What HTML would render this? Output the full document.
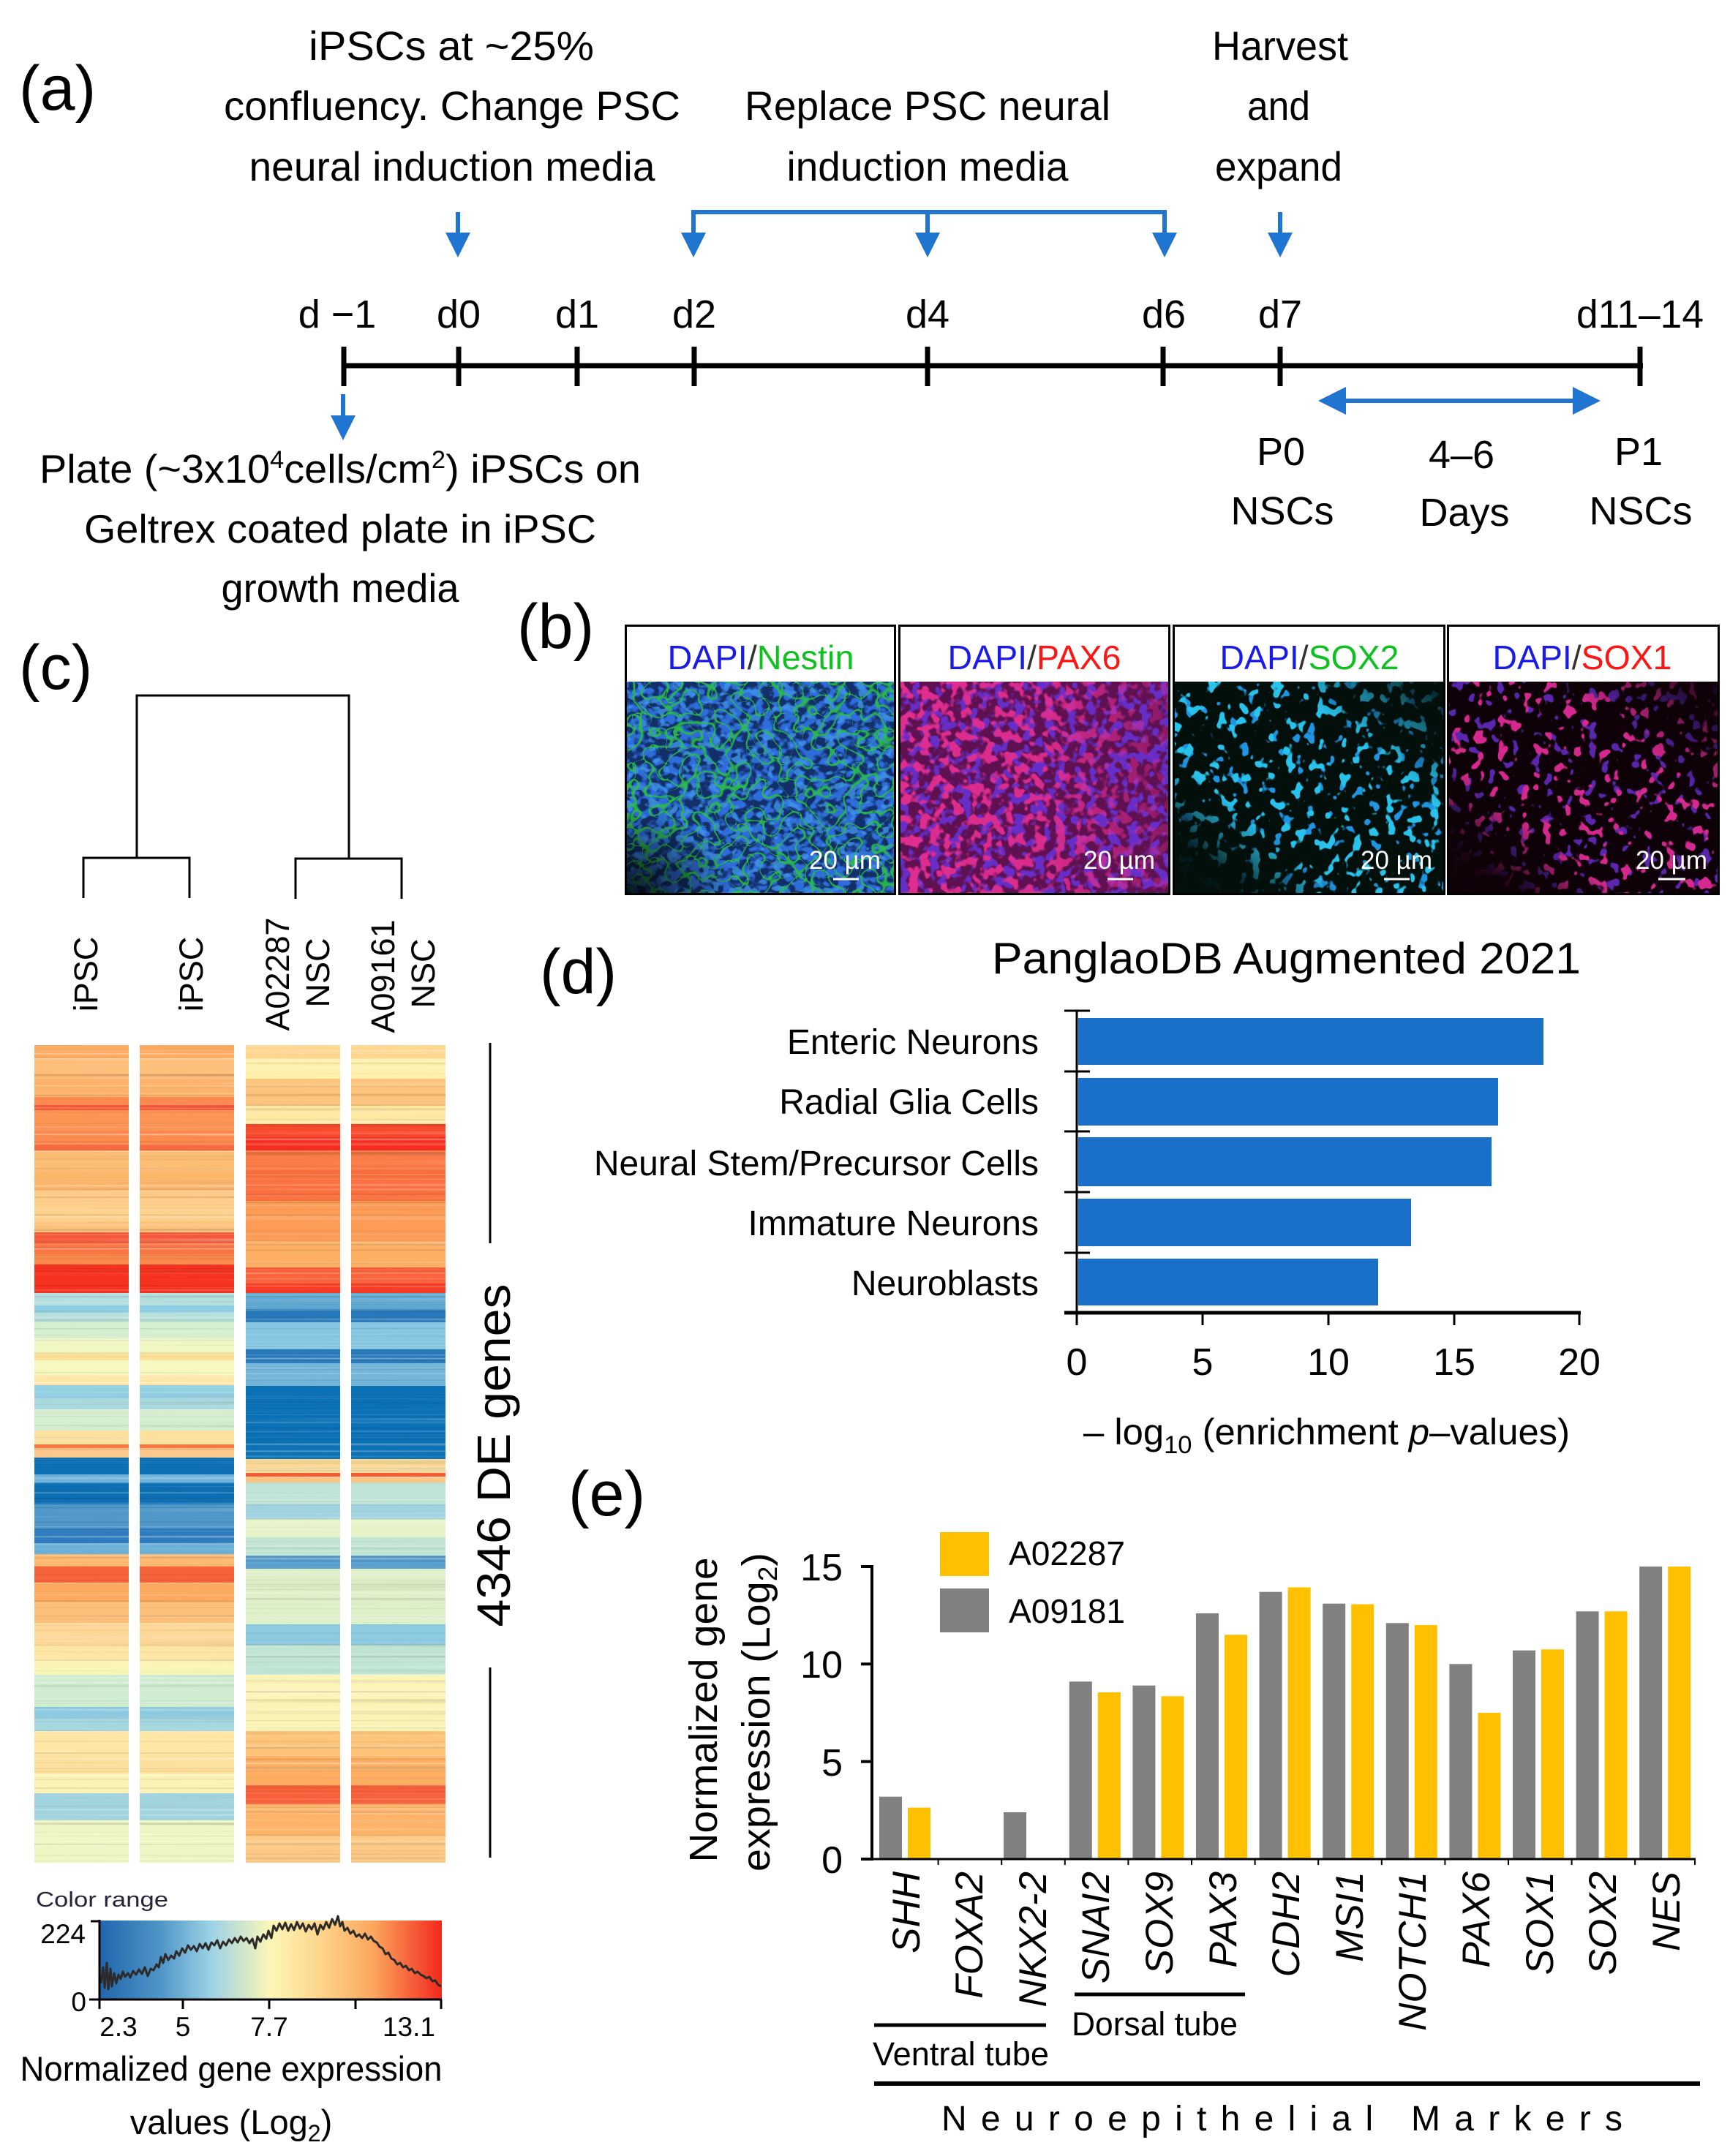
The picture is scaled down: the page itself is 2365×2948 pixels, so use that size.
<!DOCTYPE html>
<html><head><meta charset="utf-8">
<style>
html,body{margin:0;padding:0;background:#fff;}
svg{display:block;}
text{font-family:"Liberation Sans",Arial,sans-serif;}
</style></head><body>
<svg xmlns="http://www.w3.org/2000/svg" xmlns:xlink="http://www.w3.org/1999/xlink" width="2365" height="2948" viewBox="0 0 2365 2948">
<defs>
  <linearGradient id="cr" x1="0" y1="0" x2="1" y2="0">
    <stop offset="0" stop-color="#2166ac"/>
    <stop offset="0.18" stop-color="#4f96c8"/>
    <stop offset="0.33" stop-color="#9fd3e6"/>
    <stop offset="0.5" stop-color="#fbf7b6"/>
    <stop offset="0.65" stop-color="#fdd48a"/>
    <stop offset="0.8" stop-color="#fca65e"/>
    <stop offset="1" stop-color="#f2281c"/>
  </linearGradient>
  <linearGradient id="gDiag" x1="1" y1="0" x2="0" y2="1">
    <stop offset="0" stop-color="#111"/>
    <stop offset="0.3" stop-color="#fff"/>
    <stop offset="0.68" stop-color="#fff"/>
    <stop offset="0.88" stop-color="#111"/>
    <stop offset="1" stop-color="#000"/>
  </linearGradient>
  <mask id="mDiag" maskContentUnits="objectBoundingBox">
    <rect width="1" height="1" fill="url(#gDiag)"/>
  </mask>
  <linearGradient id="gLR" x1="0" y1="0" x2="1" y2="0">
    <stop offset="0" stop-color="#fff"/>
    <stop offset="0.55" stop-color="#eee"/>
    <stop offset="1" stop-color="#555"/>
  </linearGradient>
  <mask id="mLR" maskContentUnits="objectBoundingBox">
    <rect width="1" height="1" fill="url(#gLR)"/>
  </mask>
  <radialGradient id="gCorner" cx="0" cy="1" r="0.4">
    <stop offset="0" stop-color="#000" stop-opacity="0.85"/>
    <stop offset="1" stop-color="#000" stop-opacity="0"/>
  </radialGradient>

  <filter id="fNuc1" x="0" y="0" width="1" height="1" color-interpolation-filters="sRGB">
    <feTurbulence type="fractalNoise" baseFrequency="0.07 0.085" numOctaves="2" seed="2"/>
    <feColorMatrix type="matrix" values="0 0 0 0 0.18  0 0 0 0 0.42  0 0 0 0 0.86  7 0 0 0 -3.1"/>
  </filter>
  <filter id="fNuc1b" x="0" y="0" width="1" height="1" color-interpolation-filters="sRGB">
    <feTurbulence type="fractalNoise" baseFrequency="0.07 0.085" numOctaves="2" seed="6"/>
    <feColorMatrix type="matrix" values="0 0 0 0 0.25  0 0 0 0 0.58  0 0 0 0 0.92  10 0 0 0 -5.6"/>
  </filter>
  <filter id="fNet" x="0" y="0" width="1" height="1" color-interpolation-filters="sRGB">
    <feTurbulence type="turbulence" baseFrequency="0.045" numOctaves="1" seed="7"/>
    <feColorMatrix type="matrix" values="0 0 0 0 0.17  0 0 0 0 0.75  0 0 0 0 0.28  -20 0 0 0 1.35"/>
  </filter>
  <filter id="fPur" x="0" y="0" width="1" height="1" color-interpolation-filters="sRGB">
    <feTurbulence type="fractalNoise" baseFrequency="0.07" numOctaves="2" seed="4"/>
    <feColorMatrix type="matrix" values="0 0 0 0 0.40  0 0 0 0 0.18  0 0 0 0 0.78  9 0 0 0 -4.4"/>
  </filter>
  <filter id="fPink" x="0" y="0" width="1" height="1" color-interpolation-filters="sRGB">
    <feTurbulence type="fractalNoise" baseFrequency="0.07" numOctaves="2" seed="3"/>
    <feColorMatrix type="matrix" values="0 0 0 0 0.88  0 0 0 0 0.18  0 0 0 0 0.56  9 0 0 0 -4.5"/>
  </filter>
  <filter id="fCyan" x="0" y="0" width="1" height="1" color-interpolation-filters="sRGB">
    <feTurbulence type="fractalNoise" baseFrequency="0.065 0.055" numOctaves="2" seed="11"/>
    <feColorMatrix type="matrix" values="0 0 0 0 0.16  0 0 0 0 0.76  0 0 0 0 0.92  18 0 0 0 -11.1"/>
  </filter>
  <filter id="fCyan2" x="0" y="0" width="1" height="1" color-interpolation-filters="sRGB">
    <feTurbulence type="fractalNoise" baseFrequency="0.065 0.055" numOctaves="2" seed="21"/>
    <feColorMatrix type="matrix" values="0 0 0 0 0.12  0 0 0 0 0.58  0 0 0 0 0.88  18 0 0 0 -11.4"/>
  </filter>
  <filter id="fMag" x="0" y="0" width="1" height="1" color-interpolation-filters="sRGB">
    <feTurbulence type="fractalNoise" baseFrequency="0.065 0.055" numOctaves="2" seed="11"/>
    <feColorMatrix type="matrix" values="0 0 0 0 0.84  0 0 0 0 0.16  0 0 0 0 0.56  18 0 0 0 -11.3"/>
  </filter>
  <filter id="fMag2" x="0" y="0" width="1" height="1" color-interpolation-filters="sRGB">
    <feTurbulence type="fractalNoise" baseFrequency="0.065 0.055" numOctaves="2" seed="21"/>
    <feColorMatrix type="matrix" values="0 0 0 0 0.35  0 0 0 0 0.15  0 0 0 0 0.68  18 0 0 0 -11.2"/>
  </filter>

  <filter id="stWA" x="0" y="0" width="1" height="1" color-interpolation-filters="sRGB">
    <feTurbulence type="fractalNoise" baseFrequency="0.0005 0.3" numOctaves="2" seed="4"/>
    <feColorMatrix type="matrix" values="0 0 0 0 1  0 0 0 0 1  0 0 0 0 1  3 0 0 0 -1.65"/>
  </filter>
  <filter id="stKA" x="0" y="0" width="1" height="1" color-interpolation-filters="sRGB">
    <feTurbulence type="fractalNoise" baseFrequency="0.0005 0.25" numOctaves="2" seed="9"/>
    <feColorMatrix type="matrix" values="0 0 0 0 0  0 0 0 0 0  0 0 0 0 0  -3 0 0 0 1.35"/>
  </filter>
  <filter id="stWB" x="0" y="0" width="1" height="1" color-interpolation-filters="sRGB">
    <feTurbulence type="fractalNoise" baseFrequency="0.0005 0.3" numOctaves="2" seed="14"/>
    <feColorMatrix type="matrix" values="0 0 0 0 1  0 0 0 0 1  0 0 0 0 1  3 0 0 0 -1.65"/>
  </filter>
  <filter id="stKB" x="0" y="0" width="1" height="1" color-interpolation-filters="sRGB">
    <feTurbulence type="fractalNoise" baseFrequency="0.0005 0.25" numOctaves="2" seed="19"/>
    <feColorMatrix type="matrix" values="0 0 0 0 0  0 0 0 0 0  0 0 0 0 0  -3 0 0 0 1.35"/>
  </filter>

  <g id="bandsA">
    <rect x="0" y="1429" width="129" height="18" fill="#fdaa62"/>
    <rect x="0" y="1447" width="129" height="23" fill="#fdbf7a"/>
    <rect x="0" y="1470" width="129" height="30" fill="#fdb36c"/>
    <rect x="0" y="1500" width="129" height="11" fill="#fb8a50"/>
    <rect x="0" y="1511" width="129" height="7" fill="#f4583a"/>
    <rect x="0" y="1518" width="129" height="27" fill="#fc9352"/>
    <rect x="0" y="1545" width="129" height="20" fill="#fc8a4e"/>
    <rect x="0" y="1565" width="129" height="8" fill="#f8693f"/>
    <rect x="0" y="1573" width="129" height="27" fill="#fdbd74"/>
    <rect x="0" y="1600" width="129" height="29" fill="#fdb76d"/>
    <rect x="0" y="1629" width="129" height="16" fill="#fecb86"/>
    <rect x="0" y="1645" width="129" height="25" fill="#fed08c"/>
    <rect x="0" y="1670" width="129" height="15" fill="#fdc37c"/>
    <rect x="0" y="1685" width="129" height="15" fill="#f65a3a"/>
    <rect x="0" y="1700" width="129" height="15" fill="#f97545"/>
    <rect x="0" y="1715" width="129" height="14" fill="#fa8a4c"/>
    <rect x="0" y="1729" width="129" height="39" fill="#f6321f"/>
    <rect x="0" y="1768" width="129" height="17" fill="#b5dfe0"/>
    <rect x="0" y="1785" width="129" height="10" fill="#8fcde2"/>
    <rect x="0" y="1795" width="129" height="13" fill="#b8e0da"/>
    <rect x="0" y="1808" width="129" height="22" fill="#d6eed0"/>
    <rect x="0" y="1830" width="129" height="20" fill="#f0f7c4"/>
    <rect x="0" y="1850" width="129" height="10" fill="#fde09a"/>
    <rect x="0" y="1860" width="129" height="20" fill="#f6f8c0"/>
    <rect x="0" y="1880" width="129" height="14" fill="#fde7a8"/>
    <rect x="0" y="1894" width="129" height="18" fill="#94cfe2"/>
    <rect x="0" y="1912" width="129" height="15" fill="#a8d9df"/>
    <rect x="0" y="1927" width="129" height="29" fill="#d5edd0"/>
    <rect x="0" y="1956" width="129" height="19" fill="#fee0a0"/>
    <rect x="0" y="1975" width="129" height="5" fill="#f8783f"/>
    <rect x="0" y="1980" width="129" height="13" fill="#fec88a"/>
    <rect x="0" y="1993" width="129" height="23" fill="#0d6fb4"/>
    <rect x="0" y="2016" width="129" height="11" fill="#6fb2da"/>
    <rect x="0" y="2027" width="129" height="30" fill="#0d6fb4"/>
    <rect x="0" y="2057" width="129" height="33" fill="#4f98c9"/>
    <rect x="0" y="2090" width="129" height="20" fill="#2e7bbd"/>
    <rect x="0" y="2110" width="129" height="15" fill="#6ab0d8"/>
    <rect x="0" y="2125" width="129" height="17" fill="#fdb66a"/>
    <rect x="0" y="2142" width="129" height="22" fill="#f6633c"/>
    <rect x="0" y="2164" width="129" height="26" fill="#fdaa60"/>
    <rect x="0" y="2190" width="129" height="29" fill="#fdc07a"/>
    <rect x="0" y="2219" width="129" height="31" fill="#fed898"/>
    <rect x="0" y="2250" width="129" height="21" fill="#fde5a2"/>
    <rect x="0" y="2271" width="129" height="19" fill="#f9f5b8"/>
    <rect x="0" y="2290" width="129" height="44" fill="#cfebd0"/>
    <rect x="0" y="2334" width="129" height="16" fill="#8fcbe0"/>
    <rect x="0" y="2350" width="129" height="17" fill="#a5d8df"/>
    <rect x="0" y="2367" width="129" height="33" fill="#fee6a4"/>
    <rect x="0" y="2400" width="129" height="25" fill="#fde09c"/>
    <rect x="0" y="2425" width="129" height="27" fill="#fbf3b6"/>
    <rect x="0" y="2452" width="129" height="37" fill="#a2d4df"/>
    <rect x="0" y="2489" width="129" height="58" fill="#eef6c4"/>
  </g>
  <g id="bandsB">
    <rect x="0" y="1429" width="129" height="18" fill="#fed68e"/>
    <rect x="0" y="1447" width="129" height="28" fill="#fef0aa"/>
    <rect x="0" y="1475" width="129" height="37" fill="#fdc47c"/>
    <rect x="0" y="1512" width="129" height="25" fill="#fee8a2"/>
    <rect x="0" y="1537" width="129" height="18" fill="#f84a2c"/>
    <rect x="0" y="1555" width="129" height="18" fill="#f72e1f"/>
    <rect x="0" y="1573" width="129" height="27" fill="#fb7c48"/>
    <rect x="0" y="1600" width="129" height="42" fill="#fc7040"/>
    <rect x="0" y="1642" width="129" height="55" fill="#fc9c56"/>
    <rect x="0" y="1697" width="129" height="36" fill="#fdb064"/>
    <rect x="0" y="1733" width="129" height="22" fill="#f9643c"/>
    <rect x="0" y="1755" width="129" height="13" fill="#f73a24"/>
    <rect x="0" y="1768" width="129" height="22" fill="#5ea9d2"/>
    <rect x="0" y="1790" width="129" height="18" fill="#2779b9"/>
    <rect x="0" y="1808" width="129" height="37" fill="#85c6e0"/>
    <rect x="0" y="1845" width="129" height="19" fill="#2a7bbb"/>
    <rect x="0" y="1864" width="129" height="31" fill="#74b5da"/>
    <rect x="0" y="1895" width="129" height="100" fill="#0b72b6"/>
    <rect x="0" y="1995" width="129" height="19" fill="#fedb94"/>
    <rect x="0" y="2014" width="129" height="5" fill="#f6603a"/>
    <rect x="0" y="2019" width="129" height="8" fill="#fdc07a"/>
    <rect x="0" y="2027" width="129" height="30" fill="#bfe3d6"/>
    <rect x="0" y="2057" width="129" height="20" fill="#9fd3df"/>
    <rect x="0" y="2077" width="129" height="25" fill="#e6f3c8"/>
    <rect x="0" y="2102" width="129" height="25" fill="#c3e5d4"/>
    <rect x="0" y="2127" width="129" height="18" fill="#5a9fcf"/>
    <rect x="0" y="2145" width="129" height="76" fill="#dff1ca"/>
    <rect x="0" y="2221" width="129" height="28" fill="#8dcbe0"/>
    <rect x="0" y="2249" width="129" height="41" fill="#c0e4d4"/>
    <rect x="0" y="2290" width="129" height="77" fill="#fcf3b6"/>
    <rect x="0" y="2367" width="129" height="34" fill="#fdc47a"/>
    <rect x="0" y="2401" width="129" height="40" fill="#fdae60"/>
    <rect x="0" y="2441" width="129" height="26" fill="#f8603a"/>
    <rect x="0" y="2467" width="129" height="43" fill="#fdb46a"/>
    <rect x="0" y="2510" width="129" height="37" fill="#fdcb86"/>
  </g>
</defs>

<rect width="2365" height="2948" fill="#fff"/>

<!-- ================= Panel (a) ================= -->
<text x="26" y="150" font-size="86">(a)</text>
<g font-size="56" fill="#000" text-anchor="middle">
  <text x="617" y="82" textLength="390" lengthAdjust="spacingAndGlyphs">iPSCs  at ~25%</text>
  <text x="618" y="164" textLength="624" lengthAdjust="spacingAndGlyphs">confluency.  Change PSC</text>
  <text x="618" y="247" textLength="555" lengthAdjust="spacingAndGlyphs">neural  induction  media</text>
  <text x="1268" y="164" textLength="500" lengthAdjust="spacingAndGlyphs">Replace PSC neural</text>
  <text x="1268" y="247" textLength="385" lengthAdjust="spacingAndGlyphs">induction  media</text>
  <text x="1750" y="82" textLength="186" lengthAdjust="spacingAndGlyphs">Harvest</text>
  <text x="1748" y="164" textLength="86" lengthAdjust="spacingAndGlyphs">and</text>
  <text x="1748" y="247" textLength="174" lengthAdjust="spacingAndGlyphs">expand</text>
</g>
<g font-size="54" fill="#000" text-anchor="middle">
  <text x="461" y="448">d −1</text>
  <text x="627" y="448">d0</text>
  <text x="789" y="448">d1</text>
  <text x="949" y="448">d2</text>
  <text x="1268" y="448">d4</text>
  <text x="1591" y="448">d6</text>
  <text x="1750" y="448">d7</text>
  <text x="2242" y="448" textLength="174" lengthAdjust="spacingAndGlyphs">d11–14</text>
  <text x="1751" y="636">P0</text>
  <text x="1753" y="717">NSCs</text>
  <text x="1998" y="640">4–6</text>
  <text x="2002" y="719">Days</text>
  <text x="2240" y="636">P1</text>
  <text x="2243" y="717">NSCs</text>
</g>
<g font-size="55" fill="#000" text-anchor="middle">
  <text x="465" y="660" textLength="822" lengthAdjust="spacingAndGlyphs">Plate (~3x10<tspan font-size="34" dy="-20">4</tspan><tspan dy="20">cells/cm</tspan><tspan font-size="34" dy="-20">2</tspan><tspan dy="20">) iPSCs on</tspan></text>
  <text x="465" y="742" textLength="700" lengthAdjust="spacingAndGlyphs">Geltrex coated plate in iPSC</text>
  <text x="465" y="823" textLength="325" lengthAdjust="spacingAndGlyphs">growth media</text>
</g>
<g stroke="#000" stroke-width="7">
  <line x1="468" y1="500" x2="2246" y2="500"/>
  <line x1="470" y1="474" x2="470" y2="528"/>
  <line x1="627" y1="474" x2="627" y2="528"/>
  <line x1="789" y1="474" x2="789" y2="528"/>
  <line x1="949" y1="474" x2="949" y2="528"/>
  <line x1="1268" y1="474" x2="1268" y2="528"/>
  <line x1="1590" y1="474" x2="1590" y2="528"/>
  <line x1="1750" y1="474" x2="1750" y2="528"/>
  <line x1="2242" y1="474" x2="2242" y2="528"/>
</g>
<g stroke="#2075d0" stroke-width="6" fill="none">
  <line x1="626" y1="290" x2="626" y2="322"/>
  <path d="M948,322 V290 H1592 V322"/>
  <line x1="1268" y1="290" x2="1268" y2="322"/>
  <line x1="1750" y1="290" x2="1750" y2="322"/>
  <line x1="469" y1="539" x2="469" y2="572"/>
  <line x1="1830" y1="548" x2="2160" y2="548"/>
</g>
<g fill="#2075d0">
  <polygon points="609,318 643,318 626,352"/>
  <polygon points="931,318 965,318 948,352"/>
  <polygon points="1251,318 1285,318 1268,352"/>
  <polygon points="1575,318 1609,318 1592,352"/>
  <polygon points="1733,318 1767,318 1750,352"/>
  <polygon points="452,568 486,568 469,602"/>
  <polygon points="1802,548 1840,529 1840,567"/>
  <polygon points="2188,548 2150,529 2150,567"/>
</g>

<!-- ================= Panel (b) ================= -->
<text x="707" y="886" font-size="86">(b)</text>
<g>
  <rect x="857" y="932" width="365" height="290" fill="#122f6a"/>
  <rect x="857" y="932" width="365" height="290" fill="#000" filter="url(#fNuc1)"/>
  <rect x="857" y="932" width="365" height="290" fill="#000" filter="url(#fNuc1b)" opacity="0.8"/>
  <rect x="857" y="932" width="365" height="290" fill="#000" filter="url(#fNet)" opacity="0.9"/>
  <rect x="857" y="932" width="365" height="290" fill="url(#gCorner)"/>
</g>
<g>
  <rect x="1231" y="932" width="366" height="290" fill="#5e1050"/>
  <rect x="1231" y="932" width="366" height="290" fill="#000" filter="url(#fPur)"/>
  <rect x="1231" y="932" width="366" height="290" fill="#000" filter="url(#fPink)" mask="url(#mLR)"/>
</g>
<g>
  <rect x="1606" y="932" width="368" height="290" fill="#030f0b"/>
  <g mask="url(#mDiag)">
    <rect x="1606" y="932" width="368" height="290" fill="#000" filter="url(#fCyan2)"/>
    <rect x="1606" y="932" width="368" height="290" fill="#000" filter="url(#fCyan)"/>
  </g>
</g>
<g>
  <rect x="1981" y="932" width="367" height="290" fill="#0e0208"/>
  <g mask="url(#mDiag)">
    <rect x="1981" y="932" width="367" height="290" fill="#000" filter="url(#fMag2)"/>
    <rect x="1981" y="932" width="367" height="290" fill="#000" filter="url(#fMag)"/>
  </g>
</g>
<g fill="#fff" stroke="none">
  <rect x="856" y="857" width="367" height="75"/>
  <rect x="1230" y="857" width="368" height="75"/>
  <rect x="1605" y="857" width="370" height="73"/>
  <rect x="1980" y="857" width="369" height="73"/>
</g>
<g fill="none" stroke="#000" stroke-width="3">
  <rect x="855.5" y="855.5" width="368" height="367"/>
  <rect x="1229.5" y="855.5" width="369" height="367"/>
  <rect x="1604.5" y="855.5" width="370" height="367"/>
  <rect x="1979.5" y="855.5" width="370" height="367"/>
</g>
<g font-size="46" text-anchor="middle">
  <text x="1040" y="915" textLength="255" lengthAdjust="spacingAndGlyphs"><tspan fill="#1b1be8">DAPI</tspan><tspan fill="#333">/</tspan><tspan fill="#10c020">Nestin</tspan></text>
  <text x="1414" y="915" textLength="237" lengthAdjust="spacingAndGlyphs"><tspan fill="#1b1be8">DAPI</tspan><tspan fill="#333">/</tspan><tspan fill="#ff1414">PAX6</tspan></text>
  <text x="1790" y="915" textLength="245" lengthAdjust="spacingAndGlyphs"><tspan fill="#1b1be8">DAPI</tspan><tspan fill="#333">/</tspan><tspan fill="#10c020">SOX2</tspan></text>
  <text x="2163" y="915" textLength="245" lengthAdjust="spacingAndGlyphs"><tspan fill="#1b1be8">DAPI</tspan><tspan fill="#333">/</tspan><tspan fill="#ff1414">SOX1</tspan></text>
</g>
<g font-size="35" fill="#fff" text-anchor="end">
  <text x="1204" y="1188">20 µm</text>
  <text x="1579" y="1188">20 µm</text>
  <text x="1958" y="1188">20 µm</text>
  <text x="2334" y="1188">20 µm</text>
</g>
<g stroke="#fff" stroke-width="3">
  <line x1="1139" y1="1202" x2="1174" y2="1202"/>
  <line x1="1514" y1="1202" x2="1549" y2="1202"/>
  <line x1="1892" y1="1202" x2="1927" y2="1202"/>
  <line x1="2267" y1="1202" x2="2304" y2="1202"/>
</g>

<!-- ================= Panel (c) ================= -->
<text x="26" y="942" font-size="86">(c)</text>
<g stroke="#000" stroke-width="3" fill="none">
  <path d="M187,1173 V951 H477 V1173"/>
  <path d="M114,1228 V1173 H259 V1228"/>
  <path d="M404,1229 V1174 H549 V1229"/>
</g>
<g font-size="45" text-anchor="middle" fill="#000">
  <text transform="translate(133,1332) rotate(-90)">iPSC</text>
  <text transform="translate(277,1332) rotate(-90)">iPSC</text>
  <text transform="translate(395,1332) rotate(-90)">A02287</text>
  <text transform="translate(450,1330) rotate(-90)">NSC</text>
  <text transform="translate(539,1335) rotate(-90)">A09161</text>
  <text transform="translate(594,1331) rotate(-90)">NSC</text>
</g>
<use xlink:href="#bandsA" href="#bandsA" x="47"/>
<use xlink:href="#bandsA" href="#bandsA" x="191"/>
<use xlink:href="#bandsB" href="#bandsB" x="336"/>
<use xlink:href="#bandsB" href="#bandsB" x="480"/>
<rect x="47" y="1429" width="129" height="1118" fill="#000" filter="url(#stWA)" opacity="0.45"/>
<rect x="191" y="1429" width="129" height="1118" fill="#000" filter="url(#stWA)" opacity="0.45"/>
<rect x="336" y="1429" width="129" height="1118" fill="#000" filter="url(#stWB)" opacity="0.45"/>
<rect x="480" y="1429" width="129" height="1118" fill="#000" filter="url(#stWB)" opacity="0.45"/>
<rect x="47" y="1429" width="129" height="1118" fill="#000" filter="url(#stKA)" opacity="0.18"/>
<rect x="191" y="1429" width="129" height="1118" fill="#000" filter="url(#stKA)" opacity="0.18"/>
<rect x="336" y="1429" width="129" height="1118" fill="#000" filter="url(#stKB)" opacity="0.18"/>
<rect x="480" y="1429" width="129" height="1118" fill="#000" filter="url(#stKB)" opacity="0.18"/>

<g stroke="#000" stroke-width="3">
  <line x1="670" y1="1426" x2="670" y2="1700"/>
  <line x1="670" y1="2280" x2="670" y2="2540"/>
</g>
<text transform="translate(697,1990) rotate(-90)" font-size="64" text-anchor="middle" textLength="469" lengthAdjust="spacingAndGlyphs">4346 DE genes</text>

<text x="49" y="2607" font-size="29" fill="#2b2238" textLength="181" lengthAdjust="spacingAndGlyphs">Color range</text>
<rect x="136" y="2626" width="468" height="108" fill="url(#cr)"/>
<polyline fill="none" stroke="#2e2a2a" stroke-width="3" stroke-linejoin="round" points="138,2712 141,2690 143,2718 146,2684 148,2720 151,2692 153,2716 156,2698 159,2712 162,2700 165,2706 168,2696 171,2703 175,2698 178,2704 182,2695 186,2700 190,2693 194,2699 198,2690 202,2702 206,2692 210,2694 214,2686 217,2690 220,2676 223,2684 226,2672 230,2680 234,2674 238,2678 241,2668 245,2674 249,2664 253,2670 257,2660 261,2666 265,2661 269,2668 273,2658 277,2664 281,2657 285,2666 289,2656 293,2660 297,2653 301,2664 305,2655 309,2660 313,2652 317,2657 321,2650 325,2656 329,2648 333,2654 337,2650 341,2657 345,2651 349,2664 352,2648 356,2655 360,2645 364,2651 367,2640 371,2650 374,2633 378,2640 382,2630 386,2638 390,2629 394,2640 398,2631 402,2639 406,2628 410,2637 414,2630 418,2641 422,2632 426,2638 430,2630 434,2645 438,2632 442,2638 446,2628 450,2636 454,2624 458,2632 462,2620 465,2634 468,2628 471,2640 475,2636 479,2644 483,2640 487,2648 491,2645 495,2650 499,2644 503,2652 507,2648 511,2654 515,2656 519,2662 523,2664 527,2672 531,2670 535,2678 539,2680 543,2686 547,2684 551,2690 555,2688 559,2694 563,2692 567,2698 571,2696 575,2700 579,2702 583,2705 587,2703 591,2709 595,2708 599,2714 603,2716"/>
<g stroke="#000" stroke-width="3">
  <line x1="136" y1="2625" x2="136" y2="2747"/>
  <line x1="124" y1="2627" x2="136" y2="2627"/>
  <line x1="122" y1="2734" x2="604" y2="2734"/>
  <line x1="250" y1="2734" x2="250" y2="2747"/>
  <line x1="368" y1="2734" x2="368" y2="2747"/>
  <line x1="486" y1="2734" x2="486" y2="2747"/>
  <line x1="603" y1="2734" x2="603" y2="2747"/>
</g>
<g font-size="37" fill="#000">
  <text x="117" y="2657" text-anchor="end">224</text>
  <text x="118" y="2750" text-anchor="end">0</text>
  <text x="162" y="2784" text-anchor="middle">2.3</text>
  <text x="250" y="2784" text-anchor="middle">5</text>
  <text x="368" y="2784" text-anchor="middle">7.7</text>
  <text x="559" y="2784" text-anchor="middle">13.1</text>
</g>
<text x="316" y="2845" font-size="47" text-anchor="middle" textLength="577" lengthAdjust="spacingAndGlyphs">Normalized gene expression</text>
<text x="316" y="2918" font-size="47" text-anchor="middle">values (Log<tspan font-size="32" dy="10">2</tspan><tspan dy="-10">)</tspan></text>

<!-- ================= Panel (d) ================= -->
<text x="738" y="1358" font-size="86">(d)</text>
<text x="1356" y="1331" font-size="60" textLength="805" lengthAdjust="spacingAndGlyphs">PanglaoDB Augmented 2021</text>
<g fill="#1a70c8">
  <rect x="1474" y="1392" width="636" height="64"/>
  <rect x="1474" y="1474" width="574" height="65"/>
  <rect x="1474" y="1555" width="565" height="67"/>
  <rect x="1474" y="1639" width="455" height="65"/>
  <rect x="1474" y="1721" width="410" height="64"/>
</g>
<g stroke="#000" stroke-width="3">
  <line x1="1472" y1="1382" x2="1472" y2="1812"/>
  <line x1="1455" y1="1382" x2="1490" y2="1382"/>
  <line x1="1455" y1="1465" x2="1490" y2="1465"/>
  <line x1="1455" y1="1547" x2="1490" y2="1547"/>
  <line x1="1455" y1="1630" x2="1490" y2="1630"/>
  <line x1="1455" y1="1713" x2="1490" y2="1713"/>
  <line x1="1644" y1="1795" x2="1644" y2="1812"/>
  <line x1="1816" y1="1795" x2="1816" y2="1812"/>
  <line x1="1988" y1="1795" x2="1988" y2="1812"/>
  <line x1="2159" y1="1795" x2="2159" y2="1812"/>
</g>
<line x1="1455" y1="1795" x2="2161" y2="1795" stroke="#000" stroke-width="5"/>
<g font-size="48" text-anchor="end" fill="#000">
  <text x="1420" y="1441">Enteric Neurons</text>
  <text x="1420" y="1523">Radial Glia Cells</text>
  <text x="1420" y="1607">Neural Stem/Precursor Cells</text>
  <text x="1420" y="1689">Immature Neurons</text>
  <text x="1420" y="1771">Neuroblasts</text>
</g>
<g font-size="52" text-anchor="middle" fill="#000">
  <text x="1472" y="1880">0</text>
  <text x="1644" y="1880">5</text>
  <text x="1816" y="1880">10</text>
  <text x="1988" y="1880">15</text>
  <text x="2159" y="1880">20</text>
</g>
<text x="1481" y="1975" font-size="50" textLength="665" lengthAdjust="spacingAndGlyphs">– log<tspan font-size="34" dy="12">10</tspan><tspan dy="-12"> (enrichment </tspan><tspan font-style="italic">p</tspan><tspan>–values)</tspan></text>

<!-- ================= Panel (e) ================= -->
<text x="777" y="2072" font-size="86">(e)</text>
<rect x="1285" y="2095" width="67" height="60" fill="#ffc000"/>
<rect x="1285" y="2172" width="67" height="60" fill="#808080"/>
<g font-size="46" fill="#000">
  <text x="1379" y="2140" textLength="159" lengthAdjust="spacingAndGlyphs">A02287</text>
  <text x="1379" y="2219" textLength="159" lengthAdjust="spacingAndGlyphs">A09181</text>
</g>
<g font-size="54" text-anchor="middle" fill="#000">
  <text transform="translate(980,2338) rotate(-90)" textLength="417" lengthAdjust="spacingAndGlyphs">Normalized gene</text>
  <text transform="translate(1052,2341) rotate(-90)" textLength="436" lengthAdjust="spacingAndGlyphs">expression (Log<tspan font-size="36" dy="10">2</tspan><tspan dy="-10">)</tspan></text>
</g>
<g font-size="52" text-anchor="end" fill="#000">
  <text x="1152" y="2161">15</text>
  <text x="1152" y="2294">10</text>
  <text x="1152" y="2428">5</text>
  <text x="1152" y="2561">0</text>
</g>
<g fill="#808080">
  <rect x="1202" y="2456.7" width="31" height="85.3"/>
  <rect x="1372" y="2478" width="31" height="64"/>
  <rect x="1461.8" y="2299.3" width="31" height="242.7"/>
  <rect x="1548.4" y="2304.7" width="31" height="237.3"/>
  <rect x="1635" y="2206" width="31" height="336"/>
  <rect x="1721.6" y="2176.7" width="31" height="365.3"/>
  <rect x="1808.2" y="2192.7" width="31" height="349.3"/>
  <rect x="1894.8" y="2219.3" width="31" height="322.7"/>
  <rect x="1981.4" y="2275.3" width="31" height="266.7"/>
  <rect x="2068" y="2256.7" width="31" height="285.3"/>
  <rect x="2154.6" y="2203.3" width="31" height="338.7"/>
  <rect x="2241.2" y="2142" width="31" height="400"/>
</g>
<g fill="#ffc000">
  <rect x="1241" y="2471.6" width="31" height="70.4"/>
  <rect x="1500.8" y="2314" width="31" height="228"/>
  <rect x="1587.4" y="2319.3" width="31" height="222.7"/>
  <rect x="1674" y="2235.3" width="31" height="306.7"/>
  <rect x="1760.6" y="2170.5" width="31" height="371.5"/>
  <rect x="1847.2" y="2193.5" width="31" height="348.5"/>
  <rect x="1933.8" y="2222" width="31" height="320"/>
  <rect x="2020.4" y="2342" width="31" height="200"/>
  <rect x="2107" y="2255.3" width="31" height="286.7"/>
  <rect x="2193.6" y="2203.3" width="31" height="338.7"/>
  <rect x="2280.2" y="2142" width="31" height="400"/>
</g>
<g stroke="#000" stroke-width="4">
  <line x1="1192" y1="2140" x2="1192" y2="2544"/>
  <line x1="1177" y1="2142" x2="1192" y2="2142"/>
  <line x1="1177" y1="2275.3" x2="1192" y2="2275.3"/>
  <line x1="1177" y1="2408.7" x2="1192" y2="2408.7"/>
  <line x1="1177" y1="2542" x2="1192" y2="2542"/>
</g>
<line x1="1190" y1="2542" x2="2318" y2="2542" stroke="#000" stroke-width="3"/>
<g stroke="#000" stroke-width="2">
  <line x1="1282.6" y1="2542" x2="1282.6" y2="2550"/>
  <line x1="1369.2" y1="2542" x2="1369.2" y2="2550"/>
  <line x1="1455.8" y1="2542" x2="1455.8" y2="2550"/>
  <line x1="1542.4" y1="2542" x2="1542.4" y2="2550"/>
  <line x1="1629" y1="2542" x2="1629" y2="2550"/>
  <line x1="1715.6" y1="2542" x2="1715.6" y2="2550"/>
  <line x1="1802.2" y1="2542" x2="1802.2" y2="2550"/>
  <line x1="1888.8" y1="2542" x2="1888.8" y2="2550"/>
  <line x1="1975.4" y1="2542" x2="1975.4" y2="2550"/>
  <line x1="2062" y1="2542" x2="2062" y2="2550"/>
  <line x1="2148.6" y1="2542" x2="2148.6" y2="2550"/>
  <line x1="2235.2" y1="2542" x2="2235.2" y2="2550"/>
  <line x1="2317" y1="2542" x2="2317" y2="2550"/>
</g>
<g font-size="53" font-style="italic" text-anchor="end" fill="#000">
  <text transform="translate(1257,2559) rotate(-90)">SHH</text>
  <text transform="translate(1343,2559) rotate(-90)">FOXA2</text>
  <text transform="translate(1430,2559) rotate(-90)">NKX2-2</text>
  <text transform="translate(1516,2559) rotate(-90)">SNAI2</text>
  <text transform="translate(1603,2559) rotate(-90)">SOX9</text>
  <text transform="translate(1690,2559) rotate(-90)">PAX3</text>
  <text transform="translate(1776,2559) rotate(-90)">CDH2</text>
  <text transform="translate(1863,2559) rotate(-90)">MSI1</text>
  <text transform="translate(1949,2559) rotate(-90)">NOTCH1</text>
  <text transform="translate(2036,2559) rotate(-90)">PAX6</text>
  <text transform="translate(2123,2559) rotate(-90)">SOX1</text>
  <text transform="translate(2209,2559) rotate(-90)">SOX2</text>
  <text transform="translate(2296,2559) rotate(-90)">NES</text>
</g>
<g stroke="#000">
  <line x1="1469" y1="2727" x2="1702" y2="2727" stroke-width="5"/>
  <line x1="1195" y1="2769" x2="1430" y2="2769" stroke-width="5"/>
  <line x1="1195" y1="2849" x2="2324" y2="2849" stroke-width="6"/>
</g>
<g font-size="45" fill="#000">
  <text x="1465" y="2783" textLength="227" lengthAdjust="spacingAndGlyphs">Dorsal tube</text>
  <text x="1193" y="2824" textLength="241" lengthAdjust="spacingAndGlyphs">Ventral tube</text>
</g>
<text x="1287" y="2913" font-size="48" textLength="931" lengthAdjust="spacing">Neuroepithelial Markers</text>

</svg>
</body></html>
